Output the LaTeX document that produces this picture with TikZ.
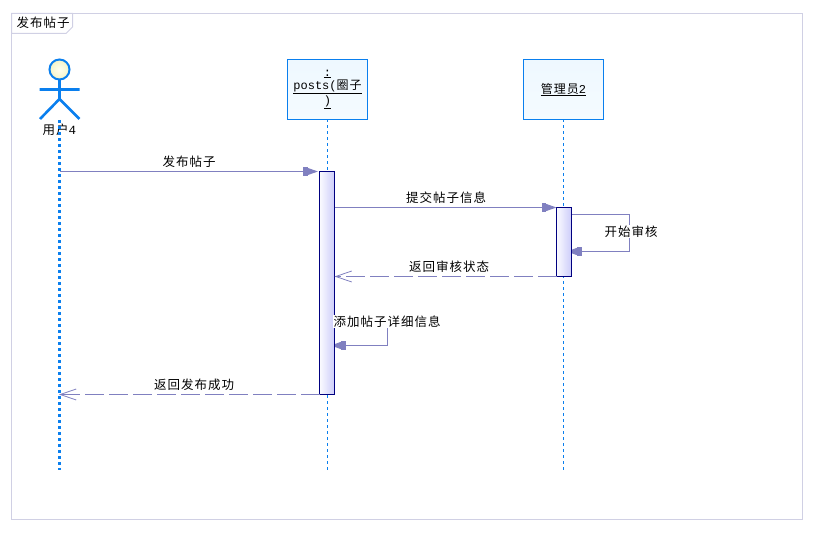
\documentclass[tikz,border=0pt]{standalone}
\usepackage{fontspec}
\usetikzlibrary{arrows.meta,calc}
\newfontfamily\cjk[LetterSpace=8]{Noto Sans CJK SC}
\newfontfamily\monof{Liberation Mono}
\definecolor{msg}{HTML}{8080C0}
\definecolor{blu}{HTML}{0A7FEE}
\definecolor{framec}{HTML}{D0D0E4}
\definecolor{aliceb}{HTML}{EEF8FF}
\definecolor{navyc}{HTML}{000080}
\definecolor{navyl}{HTML}{CCCCFA}
\definecolor{headin}{HTML}{FFFFF0}
\definecolor{headout}{HTML}{F4F4C8}
\tikzset{
  x=1pt,y=-1pt,
  lbl/.style={font=\cjk\fontsize{12.5}{13}\selectfont,fill=white,inner sep=0.5pt},
  headbox/.style={draw=blu,line width=1pt,outer sep=0pt,top color=aliceb,bottom color=aliceb!60!white,minimum width=80pt,minimum height=60pt,inner sep=0pt,align=center,font=\fontsize{12}{12}\selectfont},
  act/.style={draw=navyc,line width=1pt,outer sep=0pt,left color=white!92!navyl,right color=navyl,minimum width=15pt,inner sep=0pt},
  life/.style={blu,line width=1pt,dash pattern=on 3pt off 3pt},
  plain/.style={msg,line width=1pt},
  sync/.style={plain,-{Rectangle[length=4.5pt,width=9pt,sep=0pt]Triangle[length=10.5pt,width=7pt]}},
  ret/.style={plain,dash pattern=on 19pt off 5pt,-{Straight Barb[length=16pt,width=11pt,line width=0.8pt]}},
}
\begin{document}
\begin{tikzpicture}
\useasboundingbox (0,0) rectangle (817,534);
% frame
\draw[framec,line width=1pt] (11.5,13.5) rectangle (802.5,519.5);
\draw[framec,line width=1pt,fill=white] (11.5,13.5) -- (72.5,13.5) -- (72.5,27) -- (66,33.5) -- (11.5,33.5) -- cycle;
\node[lbl,fill=none] (title) at (43,23) {发布帖子};
% actor
\node[circle,draw=blu,line width=2pt,inner color=headin,outer color=headout,minimum size=20pt,inner sep=0pt,outer sep=0pt] (head) at (59.5,69.5) {};
\coordinate (hip) at (59.5,99);
\coordinate (armL) at (39.5,89.5);
\coordinate (armR) at (79.5,89.5);
\coordinate (legL) at (40,119);
\coordinate (legR) at (79.5,119);
\draw[blu,line width=2.6pt] (head.south) -- (hip) (armL) -- (armR) (legL) -- (hip) -- (legR);
\node[font=\fontsize{12.5}{13}\selectfont\cjk,inner sep=0pt] (user) at (59.5,129.5) {用户\monof 4};
% lifelines
\coordinate (u0) at (59.5,120);
\coordinate (u1) at (59.5,470);
\draw[blu,line width=3pt,dash pattern=on 3.3pt off 2.7pt] (u0) -- (u1);
\node[headbox] (posts) at (327.5,89.5) {\underline{\monof :}\\[1.5pt]\underline{\monof posts(\cjk 圈子}\\[1pt]\underline{\monof )}};
\node[headbox] (admin) at (563.5,89.5) {\underline{\cjk 管理员\monof 2}};
\coordinate (p1) at (327.5,470);
\coordinate (a1) at (563.5,470);
\draw[life] (posts.south) -- (p1);
\draw[life] (admin.south) -- (a1);
% self messages lie under the activation bars
\coordinate (s1a) at (571.5,214.5);
\coordinate (s1b) at (629.5,214.5);
\coordinate (s1c) at (629.5,251.5);
\coordinate (s1d) at (566.5,251.5);
\draw[plain] (s1a) -- (s1b) -- (s1c);
\draw[sync] (s1c) -- (s1d);
\coordinate (s2a) at (387.5,321);
\coordinate (s2b) at (387.5,345.5);
\coordinate (s2c) at (330.5,345.5);
\draw[plain] (s2a) -- (s2b);
\draw[sync] (s2b) -- (s2c);
% activations
\node[act,minimum height=223pt] (ap) at (327,283) {};
\node[act,minimum height=69pt] (aa) at (564,242) {};
% messages
\coordinate (m1s) at (60,171.5);
\draw[sync,shorten >=1.5pt] (m1s) -- (ap.north west);
\draw[sync] (ap.north east |- aa.north) -- (aa.north west);
\draw[ret] (aa.south west) -- (ap.south east |- aa.south);
\coordinate (u2) at (59,394.5);
\draw[ret] (ap.south west) -- (u2);
% labels
\node[lbl] (l1) at (189,161.5) {发布帖子};
\node[lbl] (l2) at (446,197.5) {提交帖子信息};
\node[lbl] (l3) at (631,231.5) {开始审核};
\node[lbl] (l4) at (449,267) {返回审核状态};
\node[lbl] (l5) at (387,321.5) {添加帖子详细信息};
\node[lbl] (l6) at (194,385) {返回发布成功};
\end{tikzpicture}
\end{document}
